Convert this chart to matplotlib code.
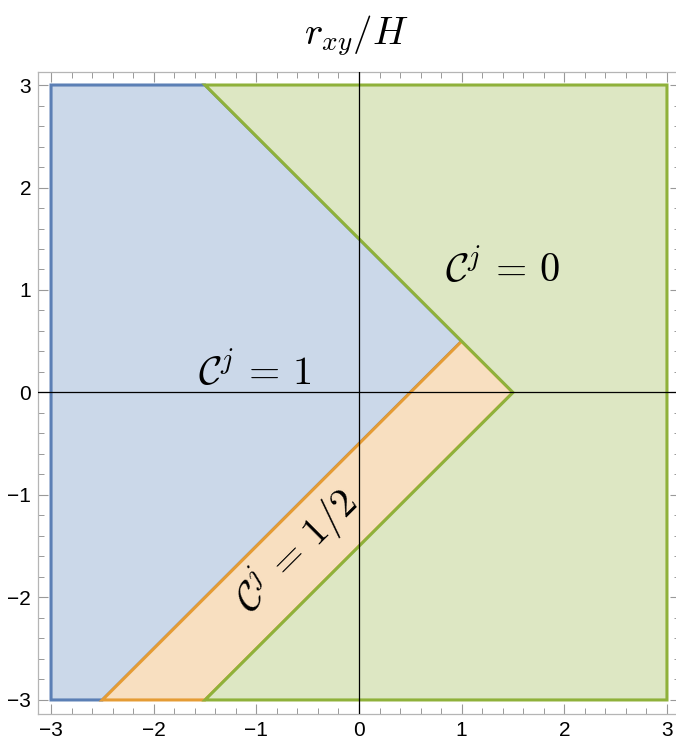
import matplotlib.pyplot as plt
from matplotlib.patches import Polygon
from matplotlib.ticker import MultipleLocator

plt.rcParams['mathtext.fontset'] = 'cm'
plt.rcParams['font.family'] = 'Liberation Sans'

# vertices of the three regions in the plane
region_1 = [(-3, -3), (-2.5, -3), (1, 0.5), (-1.5, 3), (-3, 3)]
region_half = [(-2.5, -3), (-1.5, -3), (1.5, 0), (1, 0.5)]
region_0 = [(-1.5, 3), (3, 3), (3, -3), (-1.5, -3), (1.5, 0)]

labels = [r'$\mathcal{C}^j\,=\,1$', r'$\mathcal{C}^j\,=\,1/2$', r'$\mathcal{C}^j\,=\,0$']
label_pos = [(-1.02, 0.2), (-0.6, -1.55), (1.4, 1.2)]
label_rot = [0, 45, 0]

fig = plt.figure(figsize=(6.76, 7.44), dpi=100)
ax = fig.add_axes([38/676, 30/744, 642/676, 642/744])

regions = [
    (region_1, '#cbd8e9', '#5b7fb5'),
    (region_half, '#f8dfc0', '#e59c35'),
    (region_0, '#dde7c3', '#8fb13a'),
]
for verts, fc, ec in regions:
    ax.add_patch(Polygon(verts, closed=True, facecolor=fc, edgecolor=ec,
                         linewidth=2.2, joinstyle='miter'))

ax.axhline(0, color='black', lw=0.9, zorder=5)
ax.axvline(0, color='black', lw=0.9, zorder=5)

for txt, (x, y), rot in zip(labels, label_pos, label_rot):
    ax.text(x, y, txt, fontsize=29, rotation=rot, ha='center', va='center',
            rotation_mode='anchor', zorder=6)

ax.set_xlim(-3.127, 3.127)
ax.set_ylim(-3.137, 3.127)

ax.xaxis.set_major_locator(MultipleLocator(1))
ax.yaxis.set_major_locator(MultipleLocator(1))
ax.xaxis.set_minor_locator(MultipleLocator(0.2))
ax.yaxis.set_minor_locator(MultipleLocator(0.2))
ax.tick_params(which='both', direction='in', top=True, right=True,
               color='#999999', labelsize=15, pad=5)
ax.tick_params(which='major', length=7, width=0.8)
ax.tick_params(which='minor', length=4, width=0.7)
for s in ax.spines.values():
    s.set_color('#b5b5b5')
    s.set_linewidth(0.9)

fig.text(0.527, 0.952, r'$r_{xy}/H$', fontsize=28, ha='center', va='center')

fig.savefig('out.png', dpi=100)
